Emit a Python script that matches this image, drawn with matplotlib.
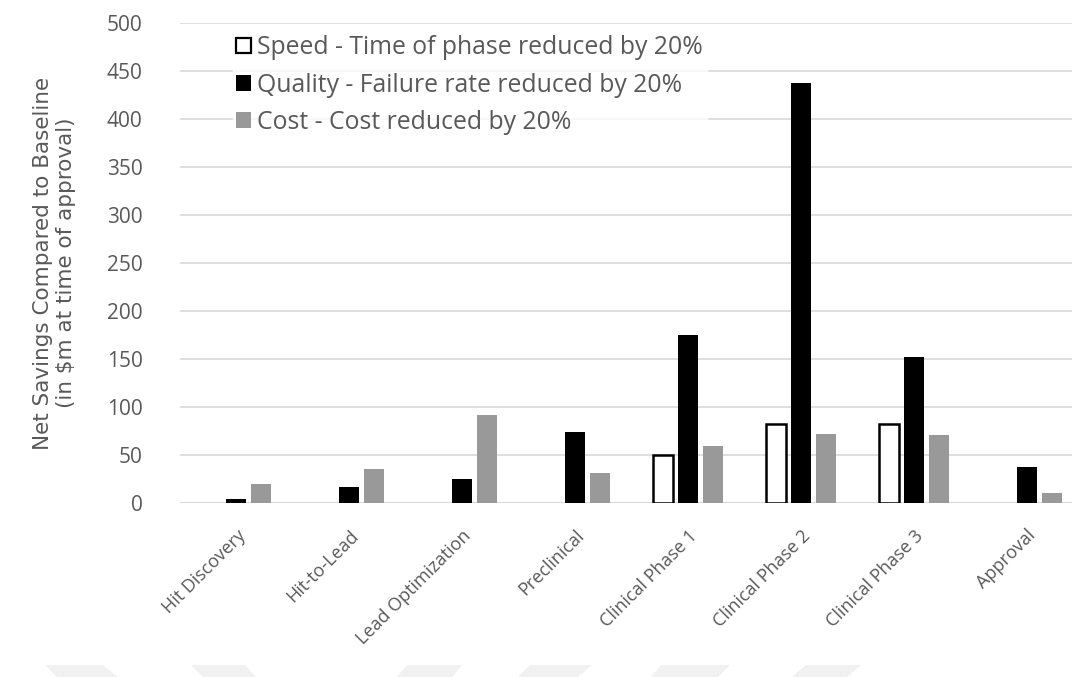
import numpy as np
import matplotlib.pyplot as plt
from matplotlib.patches import Polygon

stages = ["Hit Discovery", "Hit-to-Lead", "Lead Optimization", "Preclinical",
          "Clinical Phase 1", "Clinical Phase 2", "Clinical Phase 3", "Approval"]
speed = [0, 0, 0, 0, 50, 82, 82, 0]
quality = [4.5, 17, 25, 74, 175, 437, 152, 38]
cost = [20, 35, 92, 31, 59, 72, 71, 10]

series_labels = ["Speed - Time of phase reduced by 20%",
                 "Quality - Failure rate reduced by 20%",
                 "Cost - Cost reduced by 20%"]

TEXT = "#595959"
plt.rcParams["font.family"] = ["Open Sans", "DejaVu Sans"]

W, H = 1072, 677
fig = plt.figure(figsize=(W / 100, H / 100), dpi=100)
ax = fig.add_axes([180 / W, 174 / H, 892 / W, 480 / H])

x = np.arange(len(stages))
w = 0.177
off = 0.221

# speed bars only where there is a saving
sx = [xi - off for xi, v in zip(x, speed) if v > 0]
sv = [v for v in speed if v > 0]
ax.bar(sx, sv, w, facecolor="white", edgecolor="black", linewidth=1.8, zorder=3)
ax.bar(x, quality, w, color="black", zorder=3)
ax.bar(x + off, cost, w, color="#999999", zorder=3)

ax.set_xlim(-0.5, 7.4)
ax.set_ylim(0, 500)
ax.set_yticks(range(0, 501, 50))
ax.yaxis.grid(True, color="#d9d9d9", linewidth=1.2, zorder=0)
for s in ax.spines.values():
    s.set_visible(False)
ax.axhline(0, color="#d9d9d9", linewidth=1.5, zorder=2)

ax.tick_params(axis="y", length=0, pad=27, labelsize=15, labelcolor=TEXT)
ax.tick_params(axis="x", length=0, pad=17, labelcolor=TEXT)
ax.set_xticks(x)
ax.set_xticklabels(stages, rotation=45, ha="right", va="top",
                   rotation_mode="anchor", fontsize=13)

ax.set_ylabel("Net Savings Compared to Baseline\n(in $m at time of approval)",
              fontsize=15.5, color=TEXT, labelpad=22, linespacing=1.2,
              family=["DejaVu Sans"])

handles = [
    plt.Rectangle((0, 0), 1, 1, facecolor="white", edgecolor="black", linewidth=1.6),
    plt.Rectangle((0, 0), 1, 1, facecolor="black"),
    plt.Rectangle((0, 0), 1, 1, facecolor="#999999"),
]
leg = ax.legend(handles, series_labels, loc="upper left", bbox_to_anchor=(0.045, 1.008),
                frameon=True, fontsize=17.8, handlelength=0.6, handleheight=0.6,
                handletextpad=0.25, labelspacing=0.5, borderpad=0.15)
leg.get_frame().set_facecolor("white")
leg.get_frame().set_edgecolor("white")
for t in leg.get_texts():
    t.set_color(TEXT)
leg.set_zorder(4)

# faint chevrons along the bottom edge: (top left, top right, bottom left, bottom right)
bands = [(45, 103, 57, 118), (191, 245, 203, 256), (407, 462, 397, 452),
         (530, 592, 518, 578), (661, 730, 651, 718), (806, 861, 792, 847)]
for tl, tr, bl, br in bands:
    pts = [(tl, 665), (tr, 665), (br, 677), (bl, 677)]
    pts = [(px / W, 1 - py / H) for px, py in pts]
    fig.patches.append(Polygon(pts, closed=True, transform=fig.transFigure,
                               facecolor="#f1f1f1", edgecolor="none", zorder=0))

fig.savefig("out.png", dpi=100, facecolor="white")
